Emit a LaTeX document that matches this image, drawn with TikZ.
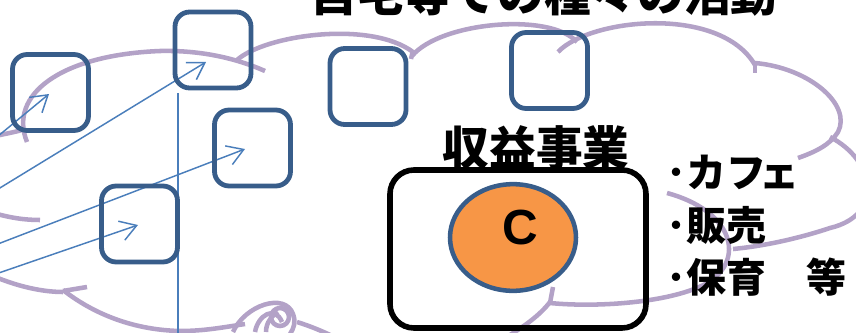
\documentclass[tikz,border=0pt]{standalone}
\usepackage{fontspec}
\newfontfamily\jp{Noto Sans CJK JP}
\newfontfamily\lat{Liberation Sans}
\usetikzlibrary{arrows.meta,shapes.geometric}
\definecolor{boxc}{HTML}{385D8A}
\definecolor{arrc}{HTML}{4A7EBB}
\definecolor{cloudc}{HTML}{B3A2C7}
\definecolor{orangec}{HTML}{F79646}
\begin{document}
\begin{tikzpicture}[x=0.75pt,y=-0.75pt,
  bx/.style={draw=boxc, line width=3.6pt, rounded corners=11pt, minimum size=57pt, inner sep=0pt},
  cl/.style={draw=cloudc, line width=3.4pt},
  ln/.style={draw=arrc, line width=1.1pt},
  arr/.style={ln, -{Straight Barb[length=12pt,width=15pt]}},
  jpbig/.style={font=\jp\bfseries\fontsize{35}{40}\selectfont, inner sep=0pt, anchor=base},
  jplist/.style={font=\jp\bfseries\fontsize{30}{35}\selectfont, inner sep=0pt, anchor=base west}
]
\useasboundingbox (0,0) rectangle (856,332);
\clip (0,0) rectangle (856,332);
% cloud
\draw[cl] (-10,137) .. controls (5,134) and (15,132) .. (22,130);
\draw[cl] (27,142) .. controls (8,95) and (60,55) .. (160,51) .. controls (205,50) and (240,60) .. (265,71);
\draw[cl] (237,60) .. controls (265,35) and (370,20) .. (413,52);
\draw[cl] (413,50) -- (411,59);
\draw[cl] (412,56) .. controls (440,22) and (550,12) .. (577,42);
\draw[cl] (558,52) .. controls (590,18) and (720,5) .. (755,65);
\draw[cl] (755,63) -- (755,73);
\draw[cl] (755,63) .. controls (810,68) and (852,105) .. (838,132) .. controls (830,145) and (815,152) .. (798,158);
\draw[cl] (830,137) .. controls (875,160) and (885,215) .. (830,228) .. controls (800,238) and (765,246) .. (733,249);
\draw[cl] (667,193) .. controls (730,210) and (745,255) .. (712,280) .. controls (680,302) and (600,308) .. (550,303);
\draw[cl] (550,303) -- (553,287);
\draw[cl] (550,302) .. controls (540,315) and (525,326) .. (505,338);
\draw[cl] (-20,270) .. controls (10,285) and (40,292) .. (63,292);
\draw[cl] (63,291) -- (87,287);
\draw[cl] (63,290) .. controls (95,315) and (135,330) .. (180,331) .. controls (205,331) and (225,327) .. (245,324);
\draw[cl] (297,322) .. controls (310,326) and (325,332) .. (340,340);
\draw[cl] (-10,212) .. controls (10,218) and (25,220) .. (40,220);
\draw[cl] (233,332) .. controls (245,305) and (285,292) .. (293,314) .. controls (296,322) and (294,328) .. (290,334);
\draw[cl] (280,317) circle[radius=9];
\draw[cl] (255,332) .. controls (258,315) and (275,305) .. (282,322);
\draw[cl] (266,332) .. controls (266,322) and (272,316) .. (278,312);
% blue lines and arrows
\coordinate (vt) at (178,93);
\coordinate (vb) at (178,340);
\draw[ln] (vt) -- (vb);
\coordinate (sa) at (-20,151); \coordinate (ta) at (49,94);
\coordinate (sb) at (-10,194); \coordinate (tb) at (206,62);
\coordinate (sc) at (-10,247); \coordinate (tc) at (245,149);
\coordinate (sd) at (-10,276); \coordinate (td) at (138,225);
\draw[arr] (sa) -- (ta);
\draw[arr] (sb) -- (tb);
\draw[arr] (sc) -- (tc);
\draw[arr] (sd) -- (td);
% boxes
\node[bx] (b1) at (50.5,92.5) {};
\node[bx] (b2) at (213,50) {};
\node[bx] (b3) at (252.5,148) {};
\node[bx] (b4) at (368,86.5) {};
\node[bx] (b5) at (549.5,70.5) {};
\node[bx] (b6) at (139.5,224) {};
% revenue business
\node[draw=black, line width=4.2pt, rounded corners=18pt, minimum width=192pt, minimum height=118.5pt, inner sep=0pt] (rb) at (518,249) {};
\node[ellipse, draw=boxc, fill=orangec, line width=3.4pt, minimum width=94.5pt, minimum height=80pt, inner sep=0pt] (ec) at (513,237.5) {};
\node[font=\lat\bfseries\fontsize{37}{40}\selectfont, inner sep=0pt] (ct) at (520,228) {C};
% texts
\node[jpbig] (title) at (544,12) {自宅等での種々の活動};
\node[jpbig] (shu) at (536,165) {収益事業};
\node[jplist] (l1) at (666,187) {･カフ\kern-5pt ェ};
\node[jplist] (l2) at (666,240) {･販売};
\node[jplist] (l3) at (666,292) {･保育　等};
\end{tikzpicture}
\end{document}
